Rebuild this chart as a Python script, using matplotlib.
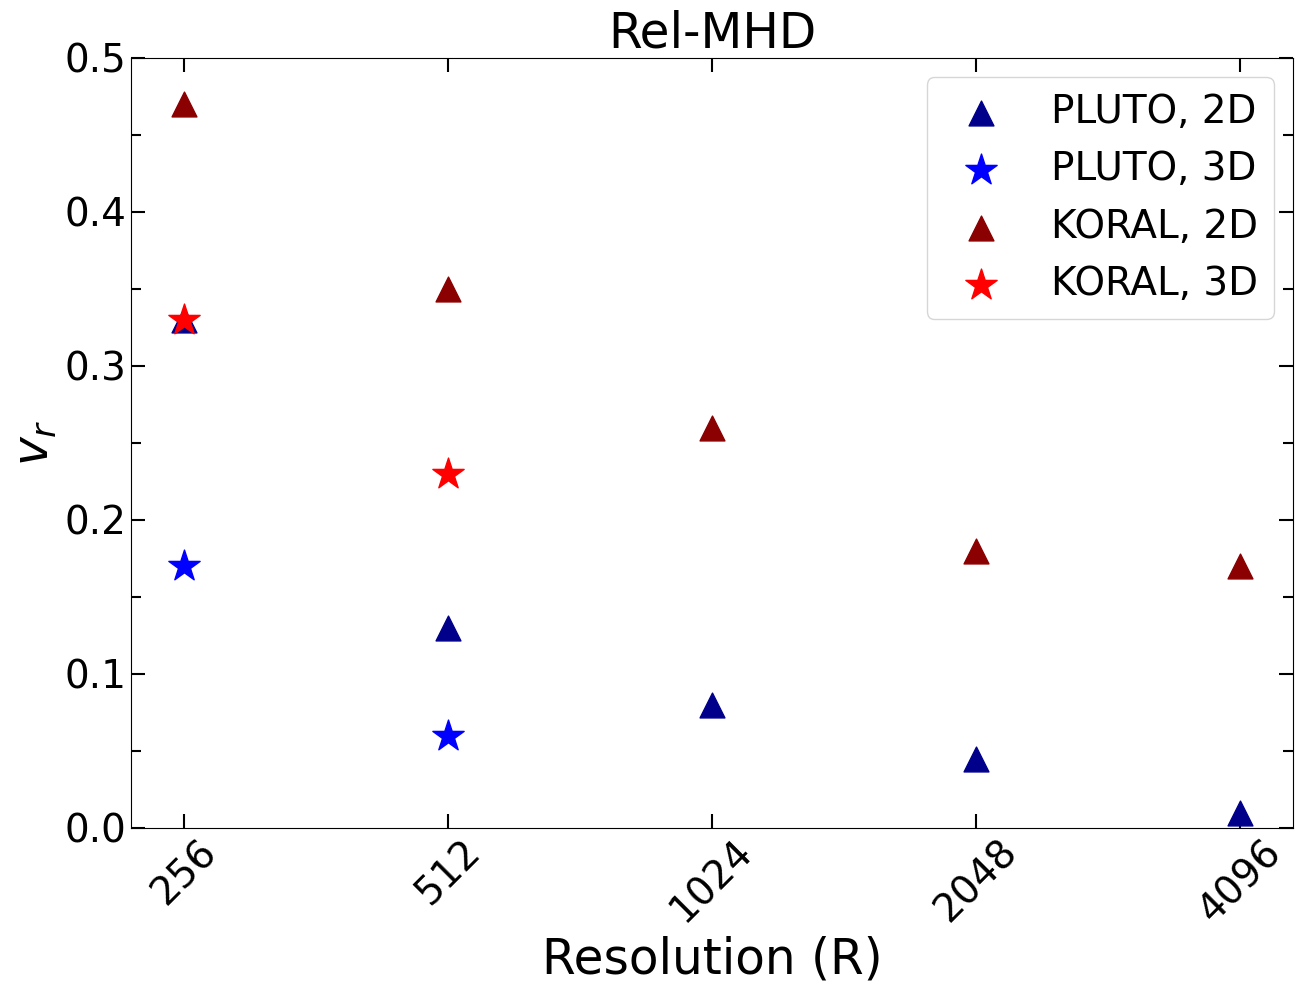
import matplotlib
matplotlib.use("Agg")
import matplotlib.pyplot as plt
from matplotlib.ticker import MultipleLocator

# resoluciones y valores de v_r
resoluciones = ["256", "512", "1024", "2048", "4096"]

pluto_2d_res = ["256", "512", "1024", "2048", "4096"]
pluto_2d_vr = [0.33, 0.13, 0.08, 0.045, 0.01]

pluto_3d_res = ["256", "512"]
pluto_3d_vr = [0.17, 0.06]

koral_2d_res = ["256", "512", "1024", "2048", "4096"]
koral_2d_vr = [0.47, 0.35, 0.26, 0.18, 0.17]

koral_3d_res = ["256", "512"]
koral_3d_vr = [0.33, 0.23]


def posiciones(lista):
    return [resoluciones.index(r) for r in lista]


fig = plt.figure(figsize=(13.02, 9.93), dpi=100)
ax = fig.add_axes([0.1006, 0.1662, 0.8925, 0.7754])

ax.scatter(posiciones(pluto_2d_res), pluto_2d_vr, marker="^", s=320,
           color="darkblue", label="PLUTO, 2D", zorder=3)
ax.scatter(posiciones(pluto_3d_res), pluto_3d_vr, marker="*", s=560,
           color="blue", label="PLUTO, 3D", zorder=3)
ax.scatter(posiciones(koral_2d_res), koral_2d_vr, marker="^", s=320,
           color="darkred", label="KORAL, 2D", zorder=3)
ax.scatter(posiciones(koral_3d_res), koral_3d_vr, marker="*", s=560,
           color="red", label="KORAL, 3D", zorder=4)

ax.set_xticks(range(len(resoluciones)))
ax.set_xticklabels(resoluciones, rotation=45)
ax.set_xlim(-0.2, len(resoluciones) - 0.8)
ax.set_ylim(0, 0.5)
ax.yaxis.set_major_locator(MultipleLocator(0.1))
ax.yaxis.set_minor_locator(MultipleLocator(0.05))

ax.tick_params(which="both", direction="in", top=True, right=True,
               labelsize=28, width=1.5)
ax.tick_params(which="major", length=10)
ax.tick_params(which="minor", length=7)

ax.set_xlabel("Resolution (R)", fontsize=35)
ax.set_ylabel("$v_r$", fontsize=35)
ax.set_title("Rel-MHD", fontsize=35)

ax.legend(loc="upper right", fontsize=28, scatterpoints=1)

fig.savefig("out.png", dpi=100)
